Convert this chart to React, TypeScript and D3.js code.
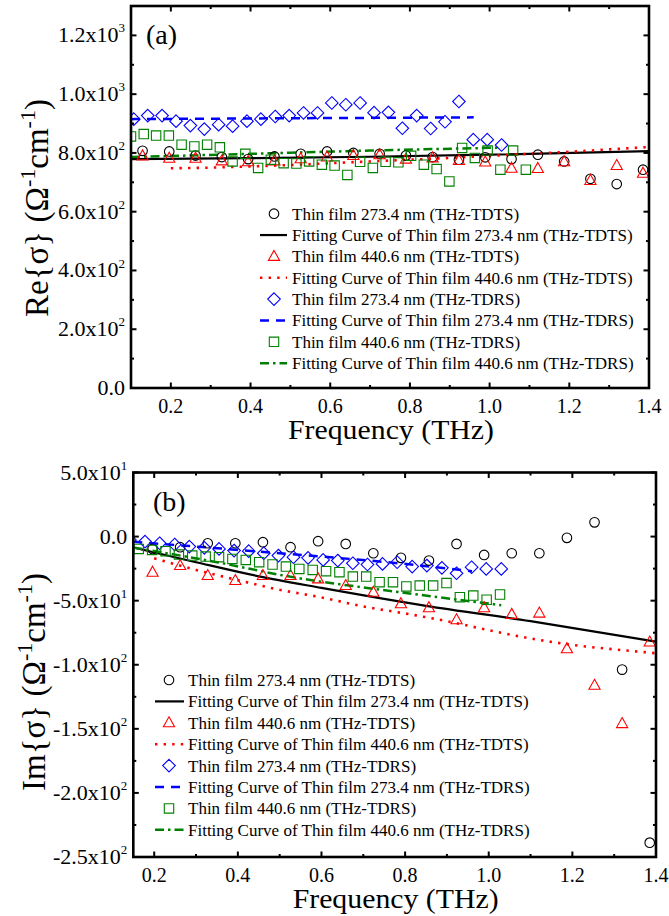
import React from "react";
import * as d3 from "d3";

// ---------------- DATA ----------------
const freqTDTS = [0.129, 0.196, 0.262, 0.328, 0.394, 0.46, 0.526, 0.592, 0.658, 0.724, 0.79, 0.857, 0.923, 0.989, 1.055, 1.121, 1.187, 1.253, 1.319, 1.385];
const re273TDTS = [807, 805, 791, 786, 779, 788, 797, 805, 800, 797, 791, 786, 777, 785, 779, 794, 771, 712, 694, 743];
const re440TDTS = [790, 782, 782, 773, 770, 773, 780, 786, 791, 794, 779, 783, 774, 769, 748, 747, 770, 706, 757, 731];
const im273TDTS = [null, -9.6, -8.3, -5.2, -5.2, -4.4, -8.3, -3.6, -5.7, -13, -16.6, -18.7, -5.7, -14.3, -13, -13, -1.0, 11.1, -103.8, -238.8];
const im440TDTS = [null, -27.8, -22.6, -30.4, -34.3, -30.4, -30.4, -33, -38.2, -43.4, -52.4, -55.5, -64.9, -55.5, -60.7, -59.7, -87.5, -116, -145.9, -82.3];

const freqTDRS273 = [0.107, 0.142, 0.178, 0.213, 0.249, 0.284, 0.32, 0.355, 0.391, 0.426, 0.462, 0.497, 0.533, 0.568, 0.604, 0.639, 0.675, 0.71, 0.746, 0.781, 0.817, 0.852, 0.888, 0.923, 0.959, 0.994, 1.03];
const re273TDRS = [915, 927, 927, 908, 893, 881, 896, 891, 908, 915, 924, 927, 936, 936, 970, 964, 970, 937, 938, 884, 927, 883, 906, 975, 845, 845, 827];
const im273TDRS = [null, -2.6, -3.9, -5.2, -6.2, -7.8, -8.8, -9.6, -10.9, -11.4, -13, -14.8, -16.1, -16.6, -18.2, -18.7, -20.8, -21.8, -21.3, -20, -23.4, -22.6, -24.4, -28.6, -23.9, -25.2, -25.2];

const freqTDRS440 = [0.1, 0.132, 0.163, 0.195, 0.227, 0.259, 0.291, 0.323, 0.355, 0.387, 0.419, 0.451, 0.483, 0.515, 0.547, 0.579, 0.611, 0.643, 0.675, 0.707, 0.739, 0.771, 0.803, 0.835, 0.867, 0.899, 0.931, 0.963, 0.995, 1.027, 1.059, 1.091];
const re440TDRS = [856, 864, 859, 859, 828, 822, 828, 819, 771, 797, 749, 777, 765, 764, 771, 760, 757, 725, 770, 749, 770, 768, 790, 760, 745, 703, 817, 783, 808, 743, 808, 743];
const im440TDRS = [null, null, -9.6, -10.4, -11.4, -14, -14.8, -15.6, -16.1, -17.4, -18.2, -20, -21.8, -23.4, -25.2, -26, -27, -27.8, -31.2, -31.2, -35.6, -35.6, -38.9, -38.2, -38.2, -36.3, -47.3, -46, -49.3, -45.2, null, null];

// fitting curves
const fitReF273TDTS = [0.1, 0.4, 0.7, 1.0, 1.4];
const fitReV273TDTS = [779, 782, 787, 794, 806];
const fitReF440TDTS = [0.2, 0.3, 0.4, 0.5, 0.6, 0.7, 0.8, 0.9, 1.0, 1.1, 1.2, 1.3, 1.4];
const fitReV440TDTS = [748, 750, 754, 759, 765, 771, 777, 783, 790, 797, 804, 812, 820];
const fitReF273TDRS = [0.1, 0.5, 0.96];
const fitReV273TDRS = [915, 918, 921];
const fitReF440TDRS = [0.1, 0.4, 0.7, 1.03];
const fitReV440TDRS = [786, 797, 808, 818];

const fitImF273TDTS = [0.15, 0.3, 0.45, 0.6, 0.85, 1.1, 1.4];
const fitImV273TDTS = [-8.5, -20, -31, -40, -54, -66, -82];
const fitImF440TDTS = [0.2, 0.3, 0.4, 0.5, 0.6, 0.7, 0.8, 0.9, 1.0, 1.1, 1.2, 1.3, 1.4];
const fitImV440TDTS = [-17, -26, -34, -41.5, -47.5, -54.5, -60, -66, -73, -79.5, -84.5, -88, -91];
const fitImF273TDRS = [0.15, 0.5, 0.79, 0.96];
const fitImV273TDRS = [-4, -13, -21, -27];
const fitImF440TDRS = [0.15, 0.35, 0.52, 0.79, 1.03];
const fitImV440TDRS = [-8.5, -20, -31, -43.5, -53.5];

// ticks
const xMajor = [0.2, 0.4, 0.6, 0.8, 1.0, 1.2, 1.4];
const xMajorLabels = ["0.2", "0.4", "0.6", "0.8", "1.0", "1.2", "1.4"];
const xMinor = [0.1, 0.3, 0.5, 0.7, 0.9, 1.1, 1.3];
const yMajorA = [0, 200, 400, 600, 800, 1000, 1200];
const yLabelsA = ["0.0", "2.0x10^2", "4.0x10^2", "6.0x10^2", "8.0x10^2", "1.0x10^3", "1.2x10^3"];
const yMinorA = [100, 300, 500, 700, 900, 1100];
const yMajorB = [50, 0, -50, -100, -150, -200, -250];
const yLabelsB = ["5.0x10^1", "0.0", "-5.0x10^1", "-1.0x10^2", "-1.5x10^2", "-2.0x10^2", "-2.5x10^2"];
const yMinorB = [25, -25, -75, -125, -175, -225];

const legendLabels = [
  "Thin film 273.4 nm (THz-TDTS)",
  "Fitting Curve of Thin film 273.4 nm (THz-TDTS)",
  "Thin film 440.6 nm (THz-TDTS)",
  "Fitting Curve of Thin film 440.6 nm (THz-TDTS)",
  "Thin film 273.4 nm (THz-TDRS)",
  "Fitting Curve of Thin film 273.4 nm (THz-TDRS)",
  "Thin film 440.6 nm (THz-TDRS)",
  "Fitting Curve of Thin film 440.6 nm (THz-TDRS)",
];

// ---------------- STYLE ----------------
const FONT = "'Liberation Serif', 'Times New Roman', 'DejaVu Serif', serif";
const BLACK = "#000000";
const RED = "#ff0000";
const BLUE = "#0000ff";
const GREEN = "#008000";

const lineStyles = {
  solid: { stroke: BLACK, dash: undefined, width: 2.2 },
  dot: { stroke: RED, dash: "2.4 6.2", width: 2.6 },
  dash: { stroke: BLUE, dash: "9 7", width: 2.5 },
  dashdot: { stroke: GREEN, dash: "9 4 2.5 4", width: 2.5 },
};

function Marker({ shape, x, y, color }) {
  let d = "";
  if (shape === "circle") {
    return <circle cx={x} cy={y} r={4.8} fill="none" stroke={color} strokeWidth={1.1} />;
  }
  if (shape === "triangle") d = "M0,-6 L5.6,4 L-5.6,4 Z";
  if (shape === "diamond") d = "M0,-6.3 L6.3,0 L0,6.3 L-6.3,0 Z";
  if (shape === "square") d = "M-4.7,-4.7 H4.7 V4.7 H-4.7 Z";
  return <path d={d} transform={`translate(${x},${y})`} fill="none" stroke={color} strokeWidth={1.1} />;
}

function SupLabel({ text, x, y, size, anchor, supSize }) {
  const [base, sup] = text.split("^");
  return (
    <text x={x} y={y} fontSize={size} textAnchor={anchor} fontFamily={FONT}>
      <tspan>{base}</tspan>
      {sup !== undefined && (
        <tspan dy={-size * 0.45} fontSize={supSize}>{sup}</tspan>
      )}
    </text>
  );
}

function Panel({ frame, xDomain, yDomain, yMajor, yLabels, yMinor, series, fits, legendPos, title, titlePos, panelLabel, panelLabelPos, clipId }) {
  const x = d3.scaleLinear().domain(xDomain).range([frame.left, frame.right]);
  const y = d3.scaleLinear().domain(yDomain).range([frame.bottom, frame.top]);
  const maj = 5.5;
  const min = 3;
  const line = d3
    .line()
    .x((d) => x(d[0]))
    .y((d) => y(d[1]))
    .curve(d3.curveMonotoneX);

  const inX = (v) => v >= xDomain[0] - 1e-9 && v <= xDomain[1] + 1e-9;

  return (
    <g>
      <defs>
        <clipPath id={clipId}>
          <rect x={frame.left} y={frame.top} width={frame.right - frame.left} height={frame.bottom - frame.top} />
        </clipPath>
      </defs>
      <g clipPath={`url(#${clipId})`}>
        {fits.map((f, i) => {
          const st = lineStyles[f.style];
          const pts = f.fx.map((v, j) => [v, f.fy[j]]);
          return (
            <path key={"f" + i} d={line(pts)} fill="none" stroke={st.stroke} strokeWidth={st.width} strokeDasharray={st.dash} />
          );
        })}
        {series.map((s, i) =>
          s.xs.map((xv, j) =>
            s.ys[j] === null ? null : (
              <Marker key={"m" + i + "-" + j} shape={s.shape} x={x(xv)} y={y(s.ys[j])} color={s.color} />
            )
          )
        )}
      </g>
      {/* frame */}
      <rect x={frame.left} y={frame.top} width={frame.right - frame.left} height={frame.bottom - frame.top} fill="none" stroke={BLACK} strokeWidth={2.6} />
      {/* x ticks */}
      {xMajor.filter(inX).map((v, i) => (
        <g key={"xt" + i}>
          <line x1={x(v)} x2={x(v)} y1={frame.bottom} y2={frame.bottom - maj} stroke={BLACK} strokeWidth={2} />
          <line x1={x(v)} x2={x(v)} y1={frame.top} y2={frame.top + maj} stroke={BLACK} strokeWidth={2} />
        </g>
      ))}
      {xMinor.filter((v) => v > xDomain[0] + 1e-6 && v < xDomain[1] - 1e-6).map((v, i) => (
        <g key={"xm" + i}>
          <line x1={x(v)} x2={x(v)} y1={frame.bottom} y2={frame.bottom - min} stroke={BLACK} strokeWidth={2} />
          <line x1={x(v)} x2={x(v)} y1={frame.top} y2={frame.top + min} stroke={BLACK} strokeWidth={2} />
        </g>
      ))}
      {xMajor.filter(inX).map((v, i) => (
        <text key={"xl" + i} x={x(v)} y={frame.bottom + 25} fontSize={20} textAnchor="middle" fontFamily={FONT}>
          {xMajorLabels[xMajor.indexOf(v)]}
        </text>
      ))}
      {/* y ticks */}
      {yMajor.map((v, i) => (
        <g key={"yt" + i}>
          <line x1={frame.left} x2={frame.left + maj} y1={y(v)} y2={y(v)} stroke={BLACK} strokeWidth={2} />
          <line x1={frame.right} x2={frame.right - maj} y1={y(v)} y2={y(v)} stroke={BLACK} strokeWidth={2} />
        </g>
      ))}
      {yMinor.map((v, i) => (
        <g key={"ym" + i}>
          <line x1={frame.left} x2={frame.left + min} y1={y(v)} y2={y(v)} stroke={BLACK} strokeWidth={2} />
          <line x1={frame.right} x2={frame.right - min} y1={y(v)} y2={y(v)} stroke={BLACK} strokeWidth={2} />
        </g>
      ))}
      {yMajor.map((v, i) => (
        <SupLabel key={"yl" + i} text={yLabels[i]} x={frame.left - 6} y={y(v) + 7} size={22} supSize={13} anchor="end" />
      ))}
      {/* axis titles */}
      <text x={(frame.left + frame.right) / 2 + 1} y={frame.bottom + 51} fontSize={27} textLength={206} lengthAdjust="spacingAndGlyphs" textAnchor="middle" fontFamily={FONT}>
        Frequency (THz)
      </text>
      <text transform={`translate(${titlePos[0]},${titlePos[1]}) rotate(-90)`} fontSize={33} textAnchor="middle" fontFamily={FONT}>
        <tspan>{title}{"{σ} (Ω"}</tspan>
        <tspan dy={-13} fontSize={22}>-1</tspan>
        <tspan dy={13}>cm</tspan>
        <tspan dy={-13} fontSize={22}>-1</tspan>
        <tspan dy={13}>)</tspan>
      </text>
      <text x={panelLabelPos[0]} y={panelLabelPos[1]} fontSize={28} fontFamily={FONT}>
        {panelLabel}
      </text>
      {/* legend */}
      {legendLabels.map((lab, i) => {
        const ly = legendPos.y0 + i * legendPos.dy;
        const isLine = i % 2 === 1;
        const s = series[Math.floor(i / 2)];
        const f = fits[Math.floor(i / 2)];
        const st = isLine ? lineStyles[f.style] : null;
        return (
          <g key={"lg" + i}>
            {isLine ? (
              <line x1={legendPos.lx1} x2={legendPos.lx2} y1={ly} y2={ly} stroke={st.stroke} strokeWidth={st.width} strokeDasharray={st.dash} />
            ) : (
              <Marker shape={s.shape} x={legendPos.mx} y={ly} color={s.color} />
            )}
            <text x={legendPos.tx} y={ly + 6} fontSize={17} fontFamily={FONT}>
              {lab}
            </text>
          </g>
        );
      })}
    </g>
  );
}

export default function App() {
  const seriesA = [
    { xs: freqTDTS, ys: re273TDTS, shape: "circle", color: BLACK },
    { xs: freqTDTS, ys: re440TDTS, shape: "triangle", color: RED },
    { xs: freqTDRS273, ys: re273TDRS, shape: "diamond", color: BLUE },
    { xs: freqTDRS440, ys: re440TDRS, shape: "square", color: GREEN },
  ];
  const fitsA = [
    { fx: fitReF273TDTS, fy: fitReV273TDTS, style: "solid" },
    { fx: fitReF440TDTS, fy: fitReV440TDTS, style: "dot" },
    { fx: fitReF273TDRS, fy: fitReV273TDRS, style: "dash" },
    { fx: fitReF440TDRS, fy: fitReV440TDRS, style: "dashdot" },
  ];
  const seriesB = [
    { xs: freqTDTS, ys: im273TDTS, shape: "circle", color: BLACK },
    { xs: freqTDTS, ys: im440TDTS, shape: "triangle", color: RED },
    { xs: freqTDRS273, ys: im273TDRS, shape: "diamond", color: BLUE },
    { xs: freqTDRS440, ys: im440TDRS, shape: "square", color: GREEN },
  ];
  const fitsB = [
    { fx: fitImF273TDTS, fy: fitImV273TDTS, style: "solid" },
    { fx: fitImF440TDTS, fy: fitImV440TDTS, style: "dot" },
    { fx: fitImF273TDRS, fy: fitImV273TDRS, style: "dash" },
    { fx: fitImF440TDRS, fy: fitImV440TDRS, style: "dashdot" },
  ];
  return (
    <svg width={669} height={916} style={{ position: "absolute", left: 0, top: 0, background: "#fff" }}>
      <rect x={0} y={0} width={669} height={916} fill="#fff" />
      <Panel
        clipId="clipA"
        frame={{ left: 131, right: 649, top: 6, bottom: 388 }}
        xDomain={[0.1, 1.4]}
        yDomain={[0, 1300]}
        yMajor={yMajorA}
        yLabels={yLabelsA}
        yMinor={yMinorA}
        series={seriesA}
        fits={fitsA}
        legendPos={{ y0: 213.7, dy: 21.35, mx: 274, lx1: 260, lx2: 287, tx: 292 }}
        title="Re"
        titlePos={[48, 208]}
        panelLabel="(a)"
        panelLabelPos={[146, 44]}
      />
      <Panel
        clipId="clipB"
        frame={{ left: 133.3, right: 656, top: 472.5, bottom: 857 }}
        xDomain={[0.15, 1.4]}
        yDomain={[-250, 50]}
        yMajor={yMajorB}
        yLabels={yLabelsB}
        yMinor={yMinorB}
        series={seriesB}
        fits={fitsB}
        legendPos={{ y0: 680, dy: 21.4, mx: 169, lx1: 155, lx2: 184, tx: 188 }}
        title="Im"
        titlePos={[45, 682]}
        panelLabel="(b)"
        panelLabelPos={[153, 511]}
      />
    </svg>
  );
}
